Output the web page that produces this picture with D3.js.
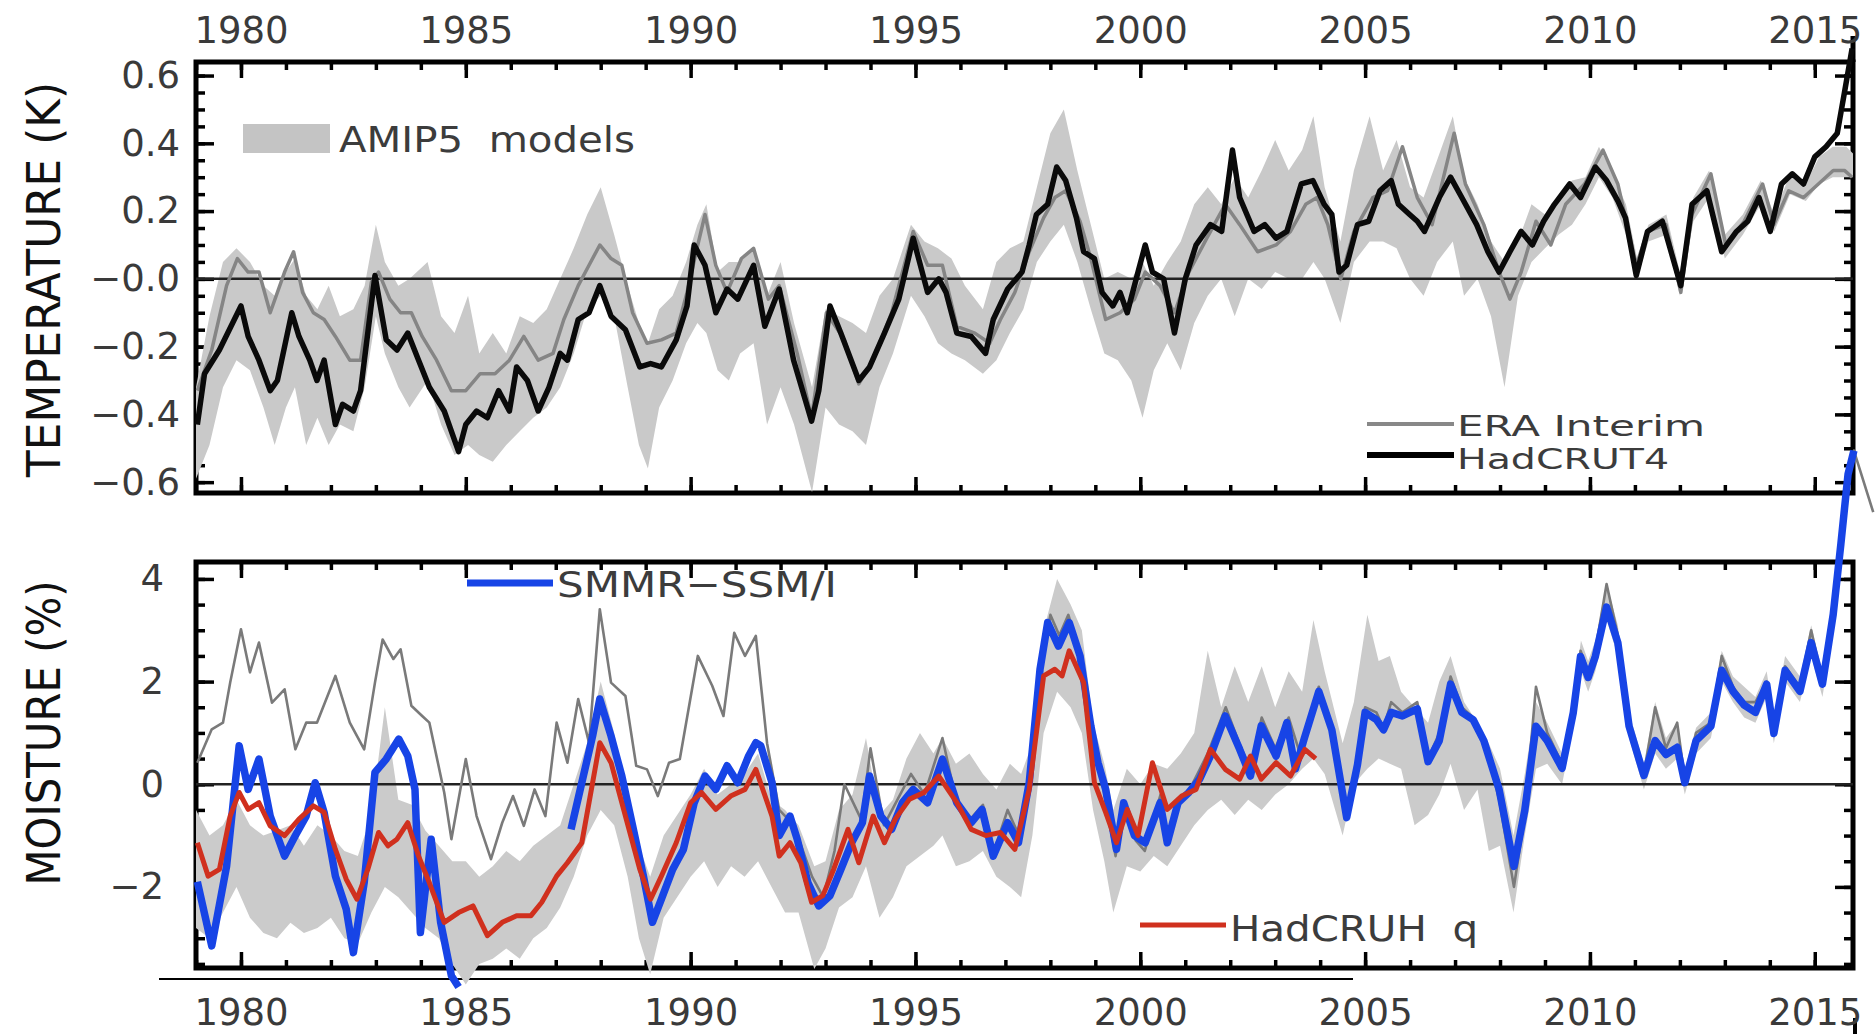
<!DOCTYPE html>
<html>
<head>
<meta charset="utf-8">
<script src="https://cdn.jsdelivr.net/npm/d3@7"></script>
<style>
  body { margin: 0; background: #fff; }
  svg { display: block; }
  text { font-family: "DejaVu Sans", sans-serif; }
</style>
</head>
<body>
<div id="chart"></div>
<script>
// ---- tick labels ----
const yearTicks = [1980, 1985, 1990, 1995, 2000, 2005, 2010, 2015];
const tempTicks = [0.6, 0.4, 0.2, 0, -0.2, -0.4, -0.6];
const tempTickLabels = ["0.6", "0.4", "0.2", "\u22120.0", "\u22120.2", "\u22120.4", "\u22120.6"];
const moistTicks = [4, 2, 0, -2];
const moistTickLabels = ["4", "2", "0", "\u22122"];

// ---- temperature panel: [year, K] ----
const hadcrut4 = [
  [1979.03,-0.43],[1979.19,-0.28],[1979.52,-0.21],[1980.0,-0.08],[1980.16,-0.17],[1980.40,-0.24],
  [1980.65,-0.33],[1980.81,-0.30],[1981.13,-0.10],[1981.29,-0.17],[1981.53,-0.24],[1981.69,-0.30],
  [1981.85,-0.24],[1982.10,-0.43],[1982.26,-0.37],[1982.50,-0.39],[1982.66,-0.33],[1982.98,0.01],
  [1983.23,-0.18],[1983.47,-0.21],[1983.71,-0.16],[1983.95,-0.24],[1984.19,-0.32],[1984.52,-0.39],
  [1984.84,-0.51],[1985.0,-0.43],[1985.24,-0.39],[1985.48,-0.41],[1985.73,-0.33],[1985.97,-0.39],
  [1986.13,-0.26],[1986.37,-0.30],[1986.61,-0.39],[1986.85,-0.32],[1987.10,-0.22],[1987.26,-0.24],
  [1987.50,-0.12],[1987.74,-0.10],[1987.98,-0.02],[1988.23,-0.11],[1988.55,-0.15],[1988.87,-0.26],
  [1989.11,-0.25],[1989.35,-0.26],[1989.68,-0.18],[1989.92,-0.08],[1990.08,0.10],[1990.32,0.04],
  [1990.56,-0.10],[1990.81,-0.03],[1991.05,-0.06],[1991.40,0.04],[1991.65,-0.14],[1991.97,-0.03],
  [1992.29,-0.24],[1992.69,-0.42],[1992.85,-0.33],[1993.10,-0.08],[1993.34,-0.16],[1993.74,-0.30],
  [1993.98,-0.26],[1994.31,-0.16],[1994.63,-0.06],[1994.95,0.12],[1995.27,-0.04],[1995.52,0.0],
  [1995.68,-0.04],[1995.92,-0.16],[1996.24,-0.17],[1996.56,-0.22],[1996.73,-0.12],[1997.05,-0.03],
  [1997.37,0.02],[1997.53,0.10],[1997.69,0.19],[1997.94,0.22],[1998.14,0.33],[1998.34,0.29],
  [1998.58,0.18],[1998.74,0.08],[1998.98,0.06],[1999.15,-0.04],[1999.39,-0.08],[1999.55,-0.04],
  [1999.71,-0.10],[1999.95,0.02],[2000.11,0.10],[2000.27,0.02],[2000.52,0.0],[2000.76,-0.16],
  [2001.0,0.0],[2001.24,0.10],[2001.56,0.16],[2001.81,0.14],[2002.05,0.38],[2002.21,0.24],
  [2002.53,0.14],[2002.77,0.16],[2003.02,0.12],[2003.26,0.14],[2003.58,0.28],[2003.84,0.29],
  [2004.09,0.22],[2004.26,0.19],[2004.42,0.02],[2004.59,0.04],[2004.83,0.16],[2005.08,0.17],
  [2005.33,0.26],[2005.58,0.29],[2005.74,0.22],[2005.99,0.19],[2006.16,0.17],[2006.32,0.14],
  [2006.65,0.24],[2006.90,0.30],[2007.15,0.24],[2007.48,0.16],[2007.73,0.08],[2007.98,0.02],
  [2008.22,0.08],[2008.47,0.14],[2008.72,0.10],[2008.97,0.17],[2009.21,0.22],[2009.55,0.28],
  [2009.79,0.24],[2010.12,0.33],[2010.37,0.29],[2010.62,0.23],[2010.79,0.18],[2011.03,0.01],
  [2011.28,0.14],[2011.61,0.17],[2012.02,-0.02],[2012.27,0.22],[2012.60,0.26],[2012.93,0.08],
  [2013.26,0.14],[2013.51,0.17],[2013.76,0.24],[2014.01,0.14],[2014.26,0.28],[2014.50,0.31],
  [2014.75,0.28],[2015.0,0.36],[2015.25,0.39],[2015.50,0.43],[2015.66,0.55],[2015.83,0.68]
];

const eraTemp = [
  [1979.03,-0.33],[1979.35,-0.21],[1979.68,-0.02],[1979.92,0.06],[1980.16,0.02],[1980.40,0.02],
  [1980.65,-0.10],[1980.97,0.02],[1981.17,0.08],[1981.37,-0.04],[1981.61,-0.10],[1981.85,-0.12],
  [1982.10,-0.17],[1982.42,-0.24],[1982.66,-0.24],[1982.90,-0.01],[1983.06,0.02],[1983.31,-0.06],
  [1983.55,-0.10],[1983.79,-0.10],[1984.03,-0.17],[1984.35,-0.24],[1984.68,-0.33],[1985.0,-0.33],
  [1985.32,-0.28],[1985.65,-0.28],[1985.97,-0.24],[1986.29,-0.17],[1986.61,-0.24],[1986.94,-0.22],
  [1987.18,-0.12],[1987.50,-0.02],[1987.74,0.04],[1987.98,0.10],[1988.23,0.06],[1988.47,0.04],
  [1988.71,-0.10],[1989.03,-0.19],[1989.35,-0.18],[1989.68,-0.16],[1989.92,-0.04],[1990.16,0.10],
  [1990.32,0.19],[1990.56,0.04],[1990.81,-0.04],[1991.13,0.06],[1991.40,0.09],[1991.73,-0.06],
  [1991.97,-0.02],[1992.37,-0.22],[1992.69,-0.41],[1993.02,-0.10],[1993.42,-0.18],[1993.74,-0.31],
  [1994.06,-0.24],[1994.47,-0.10],[1994.95,0.14],[1995.27,0.04],[1995.60,0.04],[1995.92,-0.14],
  [1996.32,-0.16],[1996.65,-0.19],[1996.89,-0.12],[1997.21,-0.04],[1997.53,0.08],[1997.85,0.18],
  [1998.10,0.24],[1998.34,0.26],[1998.66,0.17],[1998.90,0.06],[1999.23,-0.12],[1999.55,-0.10],
  [1999.87,-0.06],[2000.11,0.02],[2000.44,-0.02],[2000.76,-0.10],[2001.08,0.02],[2001.48,0.12],
  [2001.89,0.22],[2002.21,0.16],[2002.61,0.08],[2003.02,0.10],[2003.34,0.14],[2003.68,0.22],
  [2003.93,0.24],[2004.17,0.16],[2004.46,0.0],[2004.75,0.14],[2005.17,0.24],[2005.50,0.26],
  [2005.83,0.39],[2006.16,0.24],[2006.49,0.16],[2006.98,0.43],[2007.23,0.28],[2007.64,0.16],
  [2007.98,0.02],[2008.22,-0.06],[2008.47,0.02],[2008.80,0.17],[2009.13,0.10],[2009.46,0.22],
  [2009.88,0.28],[2010.29,0.38],[2010.62,0.28],[2011.03,0.04],[2011.28,0.14],[2011.69,0.16],
  [2012.02,-0.04],[2012.27,0.19],[2012.69,0.31],[2013.02,0.10],[2013.43,0.17],[2013.84,0.28],
  [2014.09,0.16],[2014.42,0.26],[2014.75,0.24],[2015.08,0.28],[2015.41,0.32],[2015.66,0.32],
  [2015.83,0.30]
];

// [year, low, high]
const amipTemp = [
  [1979.0,-0.59,-0.32],[1979.3,-0.49,-0.11],[1979.6,-0.32,0.05],[1979.9,-0.24,0.09],[1980.2,-0.27,0.05],
  [1980.5,-0.38,-0.02],[1980.75,-0.49,-0.05],[1981.0,-0.38,0.02],[1981.2,-0.32,0.06],[1981.45,-0.49,-0.05],
  [1981.7,-0.41,-0.09],[1981.95,-0.49,-0.02],[1982.2,-0.43,-0.11],[1982.5,-0.45,-0.09],[1982.75,-0.32,-0.02],
  [1983.0,-0.11,0.16],[1983.2,-0.22,0.05],[1983.5,-0.32,-0.02],[1983.75,-0.38,0.0],[1984.15,-0.30,0.05],
  [1984.45,-0.43,-0.11],[1984.75,-0.52,-0.16],[1985.05,-0.49,-0.05],[1985.3,-0.52,-0.22],[1985.6,-0.54,-0.16],
  [1985.9,-0.49,-0.22],[1986.2,-0.45,-0.11],[1986.5,-0.41,-0.13],[1986.8,-0.38,-0.09],[1987.1,-0.32,0.0],
  [1987.4,-0.22,0.09],[1987.7,-0.09,0.19],[1988.0,-0.05,0.27],[1988.3,-0.11,0.13],[1988.6,-0.32,-0.02],
  [1988.85,-0.49,-0.13],[1989.05,-0.56,-0.19],[1989.3,-0.38,-0.09],[1989.6,-0.30,-0.05],[1989.9,-0.19,0.05],
  [1990.15,-0.13,0.16],[1990.35,-0.16,0.22],[1990.6,-0.27,0.02],[1990.85,-0.30,0.05],[1991.1,-0.22,0.05],
  [1991.4,-0.19,0.09],[1991.7,-0.43,-0.05],[1992.0,-0.32,0.05],[1992.3,-0.43,-0.13],[1992.7,-0.63,-0.32],
  [1993.0,-0.38,-0.09],[1993.3,-0.43,-0.11],[1993.6,-0.45,-0.13],[1993.9,-0.49,-0.16],[1994.2,-0.32,-0.05],
  [1994.5,-0.22,0.0],[1994.9,-0.05,0.16],[1995.2,-0.11,0.11],[1995.5,-0.19,0.09],[1995.8,-0.22,0.06],
  [1996.1,-0.24,-0.02],[1996.5,-0.28,-0.09],[1996.8,-0.24,0.05],[1997.1,-0.16,0.09],[1997.4,-0.09,0.11],
  [1997.7,0.05,0.27],[1998.0,0.11,0.43],[1998.3,0.16,0.50],[1998.6,0.05,0.32],[1998.9,-0.09,0.16],
  [1999.2,-0.22,0.0],[1999.5,-0.24,0.02],[1999.8,-0.30,0.0],[2000.05,-0.41,0.05],[2000.3,-0.27,-0.02],
  [2000.6,-0.19,0.05],[2000.9,-0.27,0.11],[2001.2,-0.13,0.22],[2001.5,-0.05,0.27],[2001.8,0.0,0.22],
  [2002.1,-0.11,0.30],[2002.4,0.0,0.24],[2002.7,-0.03,0.32],[2003.0,0.02,0.41],[2003.3,0.0,0.32],
  [2003.6,0.0,0.38],[2003.85,0.05,0.48],[2004.1,0.0,0.27],[2004.45,-0.13,0.11],[2004.75,0.05,0.32],
  [2005.1,0.11,0.48],[2005.4,0.11,0.32],[2005.7,0.09,0.41],[2006.0,0.0,0.27],[2006.3,-0.05,0.24],
  [2006.6,0.05,0.35],[2006.95,0.11,0.48],[2007.2,-0.05,0.30],[2007.5,0.0,0.22],[2007.8,-0.11,0.11],
  [2008.1,-0.32,0.05],[2008.4,-0.05,0.11],[2008.7,0.05,0.22],[2009.0,0.09,0.19],[2009.3,0.13,0.24],
  [2009.6,0.16,0.29],[2009.9,0.22,0.30],[2010.2,0.30,0.39],[2010.5,0.24,0.31],[2010.8,0.13,0.22],
  [2011.05,0.0,0.06],[2011.3,0.11,0.16],[2011.7,0.13,0.19],[2012.0,-0.05,0.02],[2012.3,0.17,0.24],
  [2012.65,0.24,0.32],[2013.0,0.06,0.13],[2013.4,0.13,0.19],[2013.8,0.22,0.29],[2014.1,0.14,0.19],
  [2014.45,0.25,0.31],[2014.8,0.23,0.28],[2015.1,0.28,0.36],[2015.4,0.30,0.39],[2015.7,0.30,0.39],
  [2015.85,0.30,0.37]
];

// ---- moisture panel: [year, %] ----
const smmrSsmi = [
  [1979.03,-1.9],[1979.35,-3.15],[1979.68,-1.6],[1979.96,0.75],[1980.16,-0.1],[1980.40,0.49],
  [1980.65,-0.62],[1980.97,-1.4],[1981.21,-1.0],[1981.45,-0.62],[1981.65,0.03],[1981.85,-0.55],
  [1982.10,-1.79],[1982.34,-2.43],[1982.50,-3.28],[1982.74,-1.92],[1982.98,0.23],[1983.23,0.49],
  [1983.51,0.88],[1983.71,0.55],[1983.87,-0.1],[1983.99,-2.89],[1984.23,-1.07],[1984.44,-2.69],
  [1984.68,-3.73],[1984.84,-3.95],
  [1986.0,null],
  [1987.34,-0.88],[1987.58,0.03],[1987.82,0.94],[1987.98,1.66],[1988.23,0.94],[1988.47,0.16],
  [1988.71,-0.81],[1988.95,-1.79],[1989.15,-2.69],[1989.35,-2.24],[1989.60,-1.66],[1989.84,-1.27],
  [1990.08,-0.36],[1990.32,0.16],[1990.56,-0.1],[1990.81,0.36],[1991.05,0.03],[1991.29,0.55],
  [1991.45,0.81],[1991.56,0.75],[1991.81,0.03],[1991.97,-1.0],[1992.21,-0.62],[1992.37,-1.07],
  [1992.61,-1.92],[1992.85,-2.37],[1993.10,-2.17],[1993.34,-1.66],[1993.58,-1.14],[1993.82,-0.75],
  [1993.98,0.16],[1994.23,-0.62],[1994.47,-0.88],[1994.71,-0.36],[1994.95,-0.1],[1995.27,-0.36],
  [1995.60,0.49],[1995.92,-0.36],[1996.24,-0.75],[1996.48,-0.49],[1996.73,-1.4],[1997.05,-0.75],
  [1997.29,-1.14],[1997.53,0.03],[1997.77,2.24],[1997.94,3.15],[1998.18,2.69],[1998.42,3.15],
  [1998.66,2.5],[1998.90,1.14],[1999.06,0.42],[1999.23,-0.1],[1999.47,-1.27],[1999.63,-0.36],
  [1999.87,-1.0],[2000.11,-1.14],[2000.44,-0.36],[2000.60,-1.14],[2000.84,-0.36],[2001.08,-0.16],
  [2001.32,0.1],[2001.56,0.55],[2001.89,1.33],[2002.21,0.68],[2002.45,0.16],[2002.69,1.14],
  [2003.02,0.55],[2003.26,1.2],[2003.45,0.3],[2003.65,0.9],[2003.97,1.81],[2004.26,1.06],
  [2004.59,-0.65],[2004.83,0.38],[2005.0,1.4],[2005.25,1.26],[2005.41,1.06],[2005.58,1.4],
  [2005.83,1.33],[2006.16,1.47],[2006.40,0.44],[2006.65,0.85],[2006.90,1.95],[2007.15,1.4],
  [2007.40,1.26],[2007.64,0.85],[2007.98,-0.1],[2008.31,-1.6],[2008.55,-0.51],[2008.80,1.13],
  [2009.05,0.85],[2009.38,0.31],[2009.63,1.4],[2009.79,2.49],[2009.96,2.08],[2010.12,2.49],
  [2010.37,3.45],[2010.62,2.76],[2010.87,1.13],[2011.20,0.17],[2011.45,0.85],[2011.69,0.58],
  [2011.94,0.72],[2012.11,0.03],[2012.36,0.85],[2012.69,1.13],[2012.93,2.22],[2013.18,1.81],
  [2013.43,1.54],[2013.68,1.4],[2013.93,1.95],[2014.09,0.99],[2014.34,2.22],[2014.67,1.81],
  [2014.92,2.76],[2015.17,1.95],[2015.41,3.31],[2015.58,4.68],[2015.74,6.04],[2015.87,6.5]
];

const hadcruhQ = [
  [1979.03,-1.14],[1979.27,-1.79],[1979.52,-1.66],[1979.76,-0.62],[1979.96,-0.16],[1980.16,-0.49],
  [1980.40,-0.36],[1980.65,-0.81],[1980.97,-1.0],[1981.29,-0.68],[1981.61,-0.42],[1981.85,-0.55],
  [1982.10,-1.27],[1982.34,-1.85],[1982.58,-2.24],[1982.82,-1.66],[1983.06,-0.94],[1983.27,-1.2],
  [1983.47,-1.07],[1983.71,-0.75],[1983.95,-1.4],[1984.19,-1.92],[1984.52,-2.69],[1984.84,-2.5],
  [1985.16,-2.37],[1985.48,-2.95],[1985.81,-2.69],[1986.13,-2.56],[1986.45,-2.56],[1986.69,-2.3],
  [1987.02,-1.79],[1987.26,-1.53],[1987.58,-1.14],[1987.74,-0.36],[1987.98,0.81],[1988.23,0.42],
  [1988.55,-0.62],[1988.87,-1.66],[1989.11,-2.24],[1989.35,-1.79],[1989.68,-1.14],[1990.0,-0.36],
  [1990.24,-0.16],[1990.56,-0.49],[1990.89,-0.23],[1991.21,-0.1],[1991.45,0.29],[1991.81,-0.62],
  [1991.97,-1.4],[1992.21,-1.14],[1992.45,-1.53],[1992.69,-2.3],[1992.94,-2.17],[1993.18,-1.66],
  [1993.50,-0.88],[1993.74,-1.53],[1994.06,-0.62],[1994.31,-1.14],[1994.55,-0.68],[1994.87,-0.29],
  [1995.19,-0.16],[1995.52,0.16],[1995.92,-0.36],[1996.24,-0.88],[1996.56,-1.0],[1996.89,-0.94],
  [1997.21,-1.27],[1997.53,-0.1],[1997.85,2.11],[1998.10,2.24],[1998.26,2.11],[1998.42,2.6],
  [1998.74,1.98],[1998.98,0.03],[1999.23,-0.55],[1999.47,-1.14],[1999.71,-0.49],[1999.95,-1.0],
  [2000.27,0.42],[2000.60,-0.49],[2000.92,-0.23],[2001.24,-0.1],[2001.56,0.68],[2001.89,0.29],
  [2002.21,0.1],[2002.45,0.55],[2002.69,0.1],[2003.02,0.42],[2003.34,0.16],[2003.66,0.68],
  [2003.90,0.5]
];

const eraMoist = [
  [1979.03,0.42],[1979.35,1.07],[1979.60,1.2],[1979.76,1.98],[1980.0,3.02],[1980.20,2.18],
  [1980.40,2.76],[1980.69,1.59],[1980.97,1.85],[1981.21,0.68],[1981.45,1.2],[1981.69,1.2],
  [1982.10,2.11],[1982.42,1.2],[1982.74,0.68],[1982.98,1.98],[1983.15,2.82],[1983.39,2.44],
  [1983.55,2.63],[1983.79,1.53],[1984.03,1.33],[1984.19,1.2],[1984.52,-0.16],[1984.68,-1.07],
  [1985.0,0.49],[1985.24,-0.62],[1985.56,-1.46],[1985.81,-0.75],[1986.05,-0.23],[1986.29,-0.81],
  [1986.53,-0.1],[1986.77,-0.62],[1987.02,1.2],[1987.26,0.42],[1987.50,1.66],[1987.74,0.81],
  [1987.98,3.41],[1988.23,1.98],[1988.55,1.72],[1988.79,0.36],[1989.03,0.29],[1989.27,-0.23],
  [1989.52,0.42],[1989.76,0.49],[1990.16,2.5],[1990.48,1.92],[1990.73,1.33],[1990.97,2.95],
  [1991.21,2.5],[1991.45,2.89],[1991.70,0.8],[1991.97,-0.5],[1992.3,-0.8],[1992.7,-1.8],
  [1992.95,-2.2],[1993.2,-1.3],[1993.42,0.0],[1993.8,-0.7],[1994.0,0.7],[1994.3,-0.8],
  [1994.6,-0.3],[1994.9,0.2],[1995.2,-0.2],[1995.6,0.9],[1995.9,-0.3],[1996.2,-0.7],
  [1996.5,-0.4],[1996.75,-1.3],[1997.05,-0.5],[1997.3,-1.0],[1997.55,0.2],[1997.8,2.3],
  [1998.0,3.3],[1998.2,2.9],[1998.4,3.3],[1998.65,2.6],[1998.9,1.2],[1999.1,0.3],
  [1999.45,-1.4],[1999.65,-0.4],[1999.9,-1.1],[2000.1,-1.3],[2000.45,-0.2],[2000.6,-1.1],
  [2000.85,-0.3],[2001.1,-0.1],[2001.5,0.6],[2001.9,1.5],[2002.2,0.8],[2002.45,0.3],
  [2002.7,1.3],[2003.0,0.7],[2003.3,1.3],[2003.55,0.6],[2003.97,1.9],[2004.26,1.1],
  [2004.59,-0.5],[2004.83,0.5],[2005.0,1.5],[2005.25,1.4],[2005.41,1.1],[2005.58,1.6],
  [2005.83,1.4],[2006.16,1.6],[2006.4,0.5],[2006.65,1.0],[2006.9,2.1],[2007.15,1.5],
  [2007.4,1.3],[2007.64,0.9],[2007.98,-0.3],[2008.31,-2.0],[2008.55,-0.6],[2008.8,1.9],
  [2009.05,1.0],[2009.38,0.4],[2009.63,1.5],[2009.79,2.6],[2009.96,2.2],[2010.12,2.6],
  [2010.37,3.9],[2010.62,2.9],[2010.87,1.2],[2011.2,0.2],[2011.45,1.5],[2011.69,0.7],
  [2011.94,1.2],[2012.11,0.1],[2012.36,1.0],[2012.69,1.2],[2012.93,2.5],[2013.18,1.9],
  [2013.43,1.6],[2013.68,1.6],[2013.93,2.0],[2014.09,1.1],[2014.34,2.3],[2014.67,1.9],
  [2014.92,3.0],[2015.17,2.0],[2015.41,3.3],[2015.58,4.7],[2015.74,6.1],[2015.87,6.5],
  [2016.3,5.3]
];

const amipMoist = [
  [1979.0,-2.8,-0.5],[1979.3,-3.0,-1.0],[1979.6,-2.5,-0.8],[1979.9,-2.0,-0.3],[1980.2,-2.6,-0.8],
  [1980.5,-2.9,-1.0],[1980.8,-3.0,-0.9],[1981.1,-2.7,-0.8],[1981.4,-2.9,-1.2],[1981.7,-2.8,-0.8],
  [1982.0,-2.6,-1.0],[1982.3,-3.0,-1.3],[1982.6,-3.1,-1.4],[1982.9,-2.5,-0.6],[1983.2,-2.0,1.5],
  [1983.5,-2.2,-0.3],[1983.8,-2.5,-0.4],[1984.1,-2.8,-0.9],[1984.4,-3.0,-1.2],[1984.7,-3.5,-1.5],
  [1985.0,-3.9,-1.5],[1985.3,-3.5,-1.8],[1985.6,-3.4,-1.6],[1985.9,-3.2,-1.3],[1986.2,-3.4,-1.5],
  [1986.5,-3.0,-1.2],[1986.8,-2.8,-1.0],[1987.1,-2.4,-0.8],[1987.4,-1.8,0.0],[1987.7,-1.0,0.8],
  [1988.0,-0.5,2.0],[1988.3,-0.8,1.0],[1988.6,-1.8,-0.3],[1988.85,-3.0,-1.2],[1989.1,-3.7,-1.8],
  [1989.4,-2.6,-1.0],[1989.7,-2.2,-0.6],[1990.0,-1.8,-0.2],[1990.3,-1.5,0.3],[1990.6,-2.0,-0.2],
  [1990.9,-1.6,0.0],[1991.2,-1.8,0.2],[1991.5,-1.5,0.6],[1991.8,-2.0,-0.3],[1992.1,-2.5,-0.5],
  [1992.4,-2.5,-0.8],[1992.75,-3.6,-1.6],[1993.0,-3.2,-1.5],[1993.3,-2.4,-0.5],[1993.6,-2.2,-0.2],
  [1993.9,-1.6,0.9],[1994.2,-2.6,-0.6],[1994.5,-2.2,-0.3],[1994.8,-1.6,0.5],[1995.1,-1.4,1.0],
  [1995.4,-1.2,0.6],[1995.6,-1.0,0.9],[1995.9,-1.6,0.4],[1996.2,-1.5,0.6],[1996.5,-1.3,0.2],
  [1996.8,-1.8,-0.1],[1997.1,-2.0,0.4],[1997.35,-2.2,0.2],[1997.6,-1.0,0.8],[1997.85,1.0,3.0],
  [1998.15,1.8,4.0],[1998.45,1.5,3.5],[1998.7,1.0,3.0],[1998.95,-0.5,1.2],[1999.2,-1.5,0.4],
  [1999.4,-2.5,-0.5],[1999.7,-1.6,0.3],[2000.0,-1.7,0.0],[2000.3,-1.4,0.4],[2000.6,-1.6,0.3],
  [2000.9,-1.2,0.6],[2001.2,-0.8,1.0],[2001.5,-0.5,2.6],[2001.8,-0.3,1.5],[2002.1,-0.6,2.3],
  [2002.4,-0.3,1.6],[2002.7,-0.5,2.3],[2003.0,-0.2,1.5],[2003.3,0.0,2.2],[2003.6,0.3,1.8],
  [2003.85,0.5,3.2],[2004.1,0.2,2.2],[2004.5,-1.0,0.8],[2004.75,0.0,1.6],[2005.05,0.3,3.3],
  [2005.3,0.5,2.4],[2005.55,0.4,2.5],[2005.8,0.3,1.8],[2006.1,-0.8,1.5],[2006.4,-0.6,1.2],
  [2006.65,-0.2,2.0],[2006.9,0.4,2.5],[2007.2,-0.5,1.6],[2007.5,-0.1,1.2],[2007.75,-1.3,0.8],
  [2008.0,-1.2,0.3],[2008.3,-2.5,-1.0],[2008.55,-1.0,0.2],[2008.8,0.3,1.6],[2009.05,0.4,1.2],
  [2009.38,0.0,0.6],[2009.63,1.1,1.7],[2009.8,2.2,2.8],[2009.96,1.8,2.4],[2010.12,2.2,2.8],
  [2010.37,3.2,3.9],[2010.62,2.5,3.1],[2010.87,0.9,1.4],[2011.2,-0.1,0.4],[2011.45,0.6,1.6],
  [2011.69,0.3,0.9],[2011.94,0.5,1.2],[2012.11,-0.2,0.3],[2012.36,0.6,1.1],[2012.69,0.9,1.4],
  [2012.93,2.0,2.6],[2013.18,1.6,2.1],[2013.43,1.3,1.9],[2013.68,1.2,1.7],[2013.93,1.7,2.2],
  [2014.09,0.8,1.3],[2014.34,2.0,2.5],[2014.67,1.6,2.1],[2014.92,2.5,3.1],[2015.17,1.7,2.2],
  [2015.41,3.0,3.5]
];

// ---- layout ----
const W = 1876, H = 1034;
const left = 196, right = 1853;
const top1 = 62, bot1 = 493;     // temperature panel
const top2 = 562, bot2 = 968;    // moisture panel

const svg = d3.select("#chart").append("svg")
  .attr("width", W).attr("height", H)
  .attr("viewBox", `0 0 ${W} ${H}`);

const x = d3.scaleLinear().domain([1979, 2015.85]).range([left, right]);
const yT = d3.scaleLinear().domain([-0.632, 0.64]).range([bot1, top1]);
const yM = d3.scaleLinear().domain([-3.58, 4.33]).range([bot2, top2]);

const minorYears = d3.range(1979, 2016);

// ticks on all four sides of a panel, pointing inward
function panelFrame(y, top, bot, minorVals, majorVals) {
  const g = svg.append("g").attr("class", "frame");
  const addAxis = (axis, tx, ty) => {
    const a = g.append("g").attr("transform", `translate(${tx},${ty})`).call(axis);
    a.select(".domain").remove();
    a.selectAll("line").attr("stroke", "#000").attr("stroke-width", 3.5);
    a.selectAll("text").remove();
  };
  addAxis(d3.axisTop(x).tickValues(minorYears).tickSize(-8), 0, top);
  addAxis(d3.axisTop(x).tickValues(yearTicks).tickSize(-16), 0, top);
  addAxis(d3.axisBottom(x).tickValues(minorYears).tickSize(-8), 0, bot);
  addAxis(d3.axisBottom(x).tickValues(yearTicks).tickSize(-16), 0, bot);
  addAxis(d3.axisLeft(y).tickValues(minorVals).tickSize(-9), left, 0);
  addAxis(d3.axisLeft(y).tickValues(majorVals).tickSize(-18), left, 0);
  addAxis(d3.axisRight(y).tickValues(minorVals).tickSize(-9), right, 0);
  addAxis(d3.axisRight(y).tickValues(majorVals).tickSize(-18), right, 0);
  g.append("rect")
    .attr("x", left).attr("y", top)
    .attr("width", right - left).attr("height", bot - top)
    .attr("fill", "none").attr("stroke", "#000").attr("stroke-width", 5);
}

panelFrame(yT, top1, bot1, d3.range(-0.6, 0.61, 0.05), tempTicks);
panelFrame(yM, top2, bot2, d3.range(-3.5, 4.1, 0.5), moistTicks);

// extension marks of the right edge
svg.append("line").attr("x1", right).attr("x2", right).attr("y1", 36).attr("y2", top1)
  .attr("stroke", "#000").attr("stroke-width", 5);
svg.append("line").attr("x1", right + 2).attr("x2", right + 2).attr("y1", 1018).attr("y2", 1034)
  .attr("stroke", "#000").attr("stroke-width", 4);
// stray rule under the lower panel
svg.append("line").attr("x1", 159).attr("x2", 1353).attr("y1", 979).attr("y2", 979)
  .attr("stroke", "#000").attr("stroke-width", 2);

// ---- year labels ----
const labelColor = "#3a3a3a";
const topLabels = svg.append("g").attr("transform", `translate(0,${top1})`)
  .call(d3.axisTop(x).tickValues(yearTicks).tickSize(0).tickPadding(19).tickFormat(d3.format("d")));
topLabels.select(".domain").remove();
topLabels.selectAll("text").attr("font-size", 37).attr("fill", labelColor)
  .attr("font-family", "DejaVu Sans");

const botLabels = svg.append("g").attr("transform", `translate(0,${bot2})`)
  .call(d3.axisBottom(x).tickValues(yearTicks).tickSize(0).tickFormat(d3.format("d")));
botLabels.select(".domain").remove();
botLabels.selectAll("text").attr("font-size", 37).attr("fill", labelColor)
  .attr("font-family", "DejaVu Sans").attr("y", 57).attr("dy", null);

// ---- value labels ----
const tLab = svg.append("g").attr("transform", `translate(${left},0)`)
  .call(d3.axisLeft(yT).tickValues(tempTicks).tickSize(0).tickPadding(16)
    .tickFormat((d, i) => tempTickLabels[i]));
tLab.select(".domain").remove();
tLab.selectAll("text").attr("font-size", 37).attr("fill", labelColor).attr("font-family", "DejaVu Sans");

const mLab = svg.append("g").attr("transform", `translate(${left},0)`)
  .call(d3.axisLeft(yM).tickValues(moistTicks).tickSize(0).tickPadding(32)
    .tickFormat((d, i) => moistTickLabels[i]));
mLab.select(".domain").remove();
mLab.selectAll("text").attr("font-size", 37).attr("fill", labelColor).attr("font-family", "DejaVu Sans");

// ---- axis titles ----
svg.append("text")
  .attr("transform", `translate(60,${(top1 + bot1) / 2 + 2}) rotate(-90)`)
  .attr("text-anchor", "middle")
  .attr("font-size", 46).attr("fill", "#111")
  .attr("textLength", 395).attr("lengthAdjust", "spacingAndGlyphs")
  .text("TEMPERATURE (K)");
svg.append("text")
  .attr("transform", `translate(60,733) rotate(-90)`)
  .attr("text-anchor", "middle")
  .attr("font-size", 46).attr("fill", "#111")
  .attr("textLength", 305).attr("lengthAdjust", "spacingAndGlyphs")
  .text("MOISTURE (%)");

// ---- data: temperature ----
const bandT = d3.area().x(d => x(d[0])).y0(d => yT(d[1])).y1(d => yT(d[2]));
const lineT = d3.line().x(d => x(d[0])).y(d => yT(d[1]));
const bandM = d3.area().x(d => x(d[0])).y0(d => yM(d[1])).y1(d => yM(d[2]));
const lineM = d3.line().defined(d => d[1] !== null).x(d => x(d[0])).y(d => yM(d[1]));

svg.append("path").datum(amipTemp).attr("d", bandT).attr("fill", "#c9c9c9");
svg.append("line").attr("x1", left).attr("x2", right).attr("y1", yT(0)).attr("y2", yT(0))
  .attr("stroke", "#222").attr("stroke-width", 2.5);
svg.append("path").datum(eraTemp).attr("d", lineT)
  .attr("fill", "none").attr("stroke", "#858585").attr("stroke-width", 3.5)
  .attr("stroke-linejoin", "round");
svg.append("path").datum(hadcrut4).attr("d", lineT)
  .attr("fill", "none").attr("stroke", "#0a0a0a").attr("stroke-width", 5.5)
  .attr("stroke-linejoin", "round");

// ---- data: moisture ----
svg.append("path").datum(amipMoist).attr("d", bandM).attr("fill", "#cbcbcb");
svg.append("line").attr("x1", left).attr("x2", right).attr("y1", yM(0)).attr("y2", yM(0))
  .attr("stroke", "#222").attr("stroke-width", 2.5);
svg.append("path").datum(eraMoist).attr("d", lineM)
  .attr("fill", "none").attr("stroke", "#7a7a7a").attr("stroke-width", 2.6)
  .attr("stroke-linejoin", "round");
svg.append("path").datum(smmrSsmi).attr("d", lineM)
  .attr("fill", "none").attr("stroke", "#1744e6").attr("stroke-width", 7.5)
  .attr("stroke-linejoin", "round");
svg.append("path").datum(hadcruhQ).attr("d", lineM)
  .attr("fill", "none").attr("stroke", "#d0301e").attr("stroke-width", 5)
  .attr("stroke-linejoin", "round");

// ---- legends ----
const legText = (tx, ty, len, s, fs) => svg.append("text")
  .attr("x", tx).attr("y", ty).attr("font-size", fs || 36).attr("fill", "#3c3c3c")
  .attr("textLength", len).attr("lengthAdjust", "spacingAndGlyphs")
  .attr("xml:space", "preserve").text(s);

svg.append("rect").attr("x", 243).attr("y", 124).attr("width", 87).attr("height", 29).attr("fill", "#c4c4c4");
legText(339, 152, 296, "AMIP5  models");

svg.append("line").attr("x1", 1367).attr("x2", 1454).attr("y1", 424).attr("y2", 424)
  .attr("stroke", "#888").attr("stroke-width", 4);
legText(1457, 436, 248, "ERA Interim", 28);
svg.append("line").attr("x1", 1367).attr("x2", 1454).attr("y1", 455).attr("y2", 455)
  .attr("stroke", "#000").attr("stroke-width", 6);
legText(1457, 469, 212, "HadCRUT4", 28);

svg.append("line").attr("x1", 467).attr("x2", 553).attr("y1", 583).attr("y2", 583)
  .attr("stroke", "#1744e6").attr("stroke-width", 7);
legText(557, 597, 280, "SMMR\u2212SSM/I");

svg.append("line").attr("x1", 1140).attr("x2", 1226).attr("y1", 925).attr("y2", 925)
  .attr("stroke", "#d0301e").attr("stroke-width", 5);
legText(1230, 941, 248, "HadCRUH  q");
</script>
</body>
</html>
